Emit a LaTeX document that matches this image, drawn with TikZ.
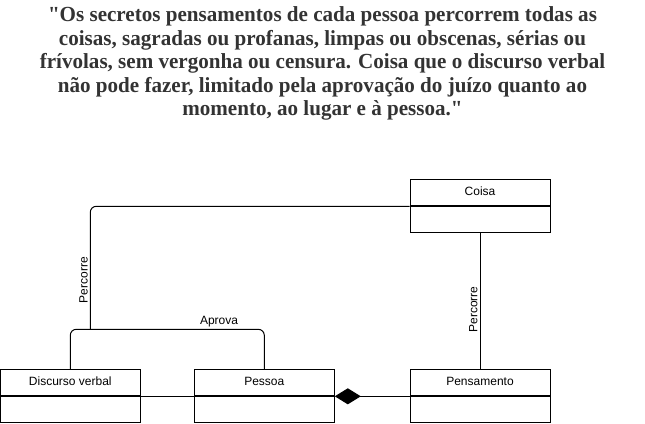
\documentclass[tikz,border=0pt]{standalone}
\usepackage{fontspec}
\setmainfont{Liberation Sans}
\newfontfamily\quotefont{Liberation Serif}[FakeStretch=0.98]
\usepackage{xcolor}
\usepackage{tikz}
\usetikzlibrary{positioning,arrows.meta}

\definecolor{quotegray}{HTML}{333333}

\begin{document}
\begin{tikzpicture}[
        x=1pt, y=-1pt,
        classhead/.style={draw, line width=1pt, rectangle, minimum width=140pt, minimum height=26pt, inner sep=0pt, text height=8.6pt, text depth=2.4pt, font=\fontsize{12}{14}\selectfont, anchor=north},
        classbody/.style={draw, line width=1pt, rectangle, minimum width=140pt, minimum height=26pt, inner sep=0pt},
        conn/.style={line width=1pt, rounded corners=6pt},
        lab/.style={font=\fontsize{12}{14}\selectfont, inner sep=2pt}
    ]
        \useasboundingbox (0,0) rectangle (645,423);

        % Quote at the top
        \node[font=\quotefont\bfseries\fontsize{21.5}{23.5}\selectfont, text=quotegray, align=center, anchor=north, inner sep=0pt] (quote) at (322.5,6.5)
            {"Os secretos pensamentos de cada pessoa percorrem todas as\\
             coisas, sagradas ou profanas, limpas ou obscenas, s\'erias ou\\
             fr\'ivolas, sem vergonha ou censura. Coisa que o discurso verbal\\
             n\~ao pode fazer, limitado pela aprova\c{c}\~ao do ju\'izo quanto ao\\
             momento, ao lugar e \`a pessoa."};

        % Classes (header + empty body)
        \node[classhead] (coisa) at (480,179.3) {Coisa};
        \node[classbody, below=0pt of coisa] (coisaBody) {};
        \node[classhead] (pensamento) at (480,369.3) {Pensamento};
        \node[classbody, below=0pt of pensamento] (pensamentoBody) {};
        \node[classhead] (discurso) at (70.3,369.3) {Discurso verbal};
        \node[classbody, below=0pt of discurso] (discursoBody) {};
        \node[classhead] (pessoa) at (264.3,369.3) {Pessoa};
        \node[classbody, below=0pt of pessoa] (pessoaBody) {};

        % Fork on the Aprova line
        \coordinate (fork) at (90.3,329.3);

        % --- Associations ---
        \draw[conn] (discurso.north) |- (fork) -| node[lab, above, pos=0.37]{Aprova} (pessoa.north);
        \draw[conn] (fork) |- node[lab, rotate=90, anchor=south, pos=0.2]{Percorre} (coisa.south west);
        \draw[conn] (coisaBody.south) -- node[lab, rotate=90, anchor=south, pos=0.56]{Percorre} (pensamento.north);
        \draw[conn] (discurso.south east) -- (pessoa.south west);
        \draw[conn, {Diamond[length=26pt, width=16pt]}-] (pessoa.south east) -- (pensamento.south west);
    \end{tikzpicture}
\end{document}
